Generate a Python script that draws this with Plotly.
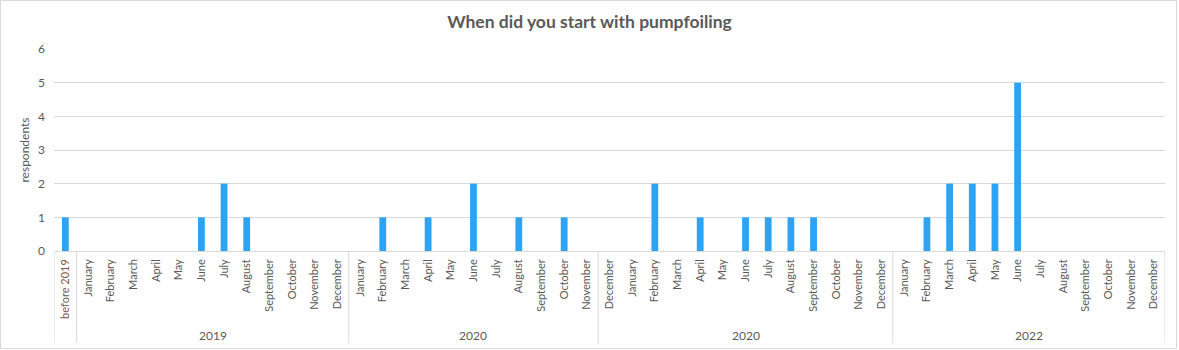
import plotly.graph_objects as go

# Survey answers: number of respondents per start month
months = ["January", "February", "March", "April", "May", "June", "July",
          "August", "September", "October", "November", "December"]

group_names = ["", "2019", "2020", "2020", "2022"]
group_labels = [
    ["before 2019"],
    months,
    months[:11],
    ["December"] + months,
    months,
]
group_values = [
    [1],
    [0, 0, 0, 0, 0, 1, 2, 1, 0, 0, 0, 0],
    [0, 1, 0, 1, 0, 2, 0, 1, 0, 1, 0],
    [0, 0, 2, 0, 1, 0, 1, 1, 1, 1, 0, 0, 0],
    [0, 1, 2, 2, 2, 5, 0, 0, 0, 0, 0, 0],
]

labels = [lab for g in group_labels for lab in g]
values = [v for g in group_values for v in g]
xs = list(range(len(labels)))

W, H = 1179, 350
ML, MR, MT, MB = 54, 14, 49, 99
PW, PH = W - ML - MR, H - MT - MB

GRAY = "#595959"
LINE = "#d9d9d9"
FONT = "Lato, Calibri, sans-serif"

fig = go.Figure(go.Bar(
    x=xs, y=values, marker=dict(color="#2ea3f2", line=dict(width=0)),
    width=0.3, hoverinfo="x+y",
))

ticktext = []
for gi, g in enumerate(group_labels):
    for lab in g:
        if gi == 0:
            ticktext.append(f"<span style='color:#7b5a48'>{lab}</span>")
        else:
            ticktext.append(lab)

fig.update_layout(
    width=W, height=H,
    margin=dict(l=ML, r=MR, t=MT, b=MB),
    paper_bgcolor="white", plot_bgcolor="white",
    showlegend=False,
    font=dict(family=FONT, color=GRAY, size=11),
    title=dict(text="<b>When did you start with pumpfoiling</b>",
               x=0.5, xanchor="center", y=1 - 22 / H, yanchor="middle",
               font=dict(size=17.5, color=GRAY, family=FONT)),
    xaxis=dict(range=[-0.5, len(labels) - 0.5], tickmode="array",
               tickvals=xs, ticktext=ticktext, tickangle=-90,
               showgrid=False, zeroline=False, showline=False,
               ticks="", ticklabelstandoff=5,
               tickfont=dict(size=11, color=GRAY, family=FONT)),
    yaxis=dict(range=[0, 6], dtick=1, tick0=0, showgrid=True,
               gridcolor=LINE, gridwidth=1, zeroline=True,
               zerolinecolor=LINE, zerolinewidth=1, showline=False,
               ticks="", ticklabelstandoff=8,
               tickfont=dict(size=12, color=GRAY, family=FONT),
               title=dict(text="respondents", standoff=5,
                          font=dict(size=12, color=GRAY, family=FONT))),
)

# Group dividers below the axis and group captions
sep_bottom = -(343 - 251) / PH
start = 0
bounds = [-0.5]
for name, g in zip(group_names, group_labels):
    end = start + len(g)
    bounds.append(end - 0.5)
    if name:
        fig.add_annotation(x=(start + end - 1) / 2, y=-(335 - 251) / PH,
                           xref="x", yref="paper", text=name,
                           showarrow=False, yanchor="middle",
                           font=dict(size=12, color=GRAY, family=FONT))
    start = end
for b in bounds:
    fig.add_shape(type="line", xref="x", yref="paper", x0=b, x1=b,
                  y0=0, y1=sep_bottom, line=dict(color=LINE, width=1))

# Outer chart border
fig.add_shape(type="rect", xref="paper", yref="paper",
              x0=-(ML - 0.5) / PW, x1=1 + (MR - 2.5) / PW,
              y0=-(MB - 1.5) / PH, y1=1 + (MT - 0.5) / PH,
              line=dict(color=LINE, width=1), layer="below")

fig.write_html("out.html")
